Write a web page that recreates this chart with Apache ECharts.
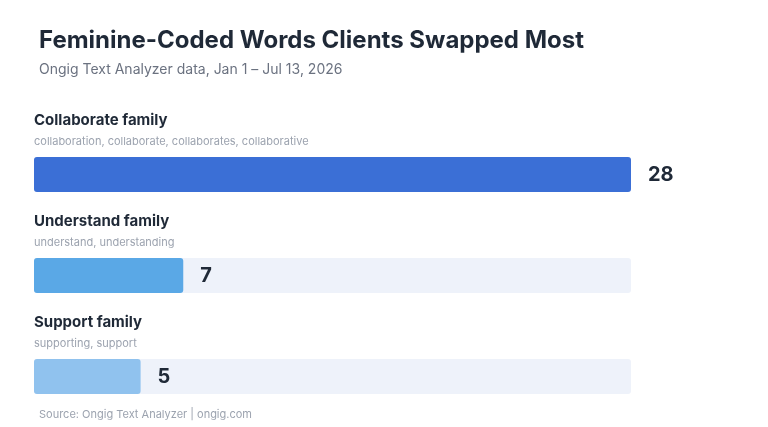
<!DOCTYPE html>
<html><head><meta charset="utf-8">
<script src="https://cdn.jsdelivr.net/npm/echarts@6/dist/echarts.min.js"></script>
<style>html,body{margin:0;padding:0;background:#fff}#c{width:768px;height:427px}</style>
</head><body><div id="c"></div>
<script>
const families = ["Collaborate family", "Understand family", "Support family"];
const variants = ["collaboration, collaborate, collaborates, collaborative", "understand, understanding", "supporting, support"];
const counts = [28, 7, 5];
const colors = ["#3b6fd6", "#5aa8e6", "#90c2ee"];
const FONT = "Inter, 'Noto Sans', sans-serif";
const chart = echarts.init(document.getElementById('c'));
chart.setOption({
  animation: false,
  backgroundColor: '#fff',
  textStyle: { fontFamily: FONT },
  title: [
    { text: 'Feminine-Coded Words Clients Swapped Most', left: 34, top: 24,
      textStyle: { fontSize: 24, fontWeight: 'bold', color: '#1f2937', fontFamily: FONT } },
    { text: 'Ongig Text Analyzer data, Jan 1 – Jul 13, 2026', left: 34, top: 58,
      textStyle: { fontSize: 14, fontWeight: 'normal', color: '#6b7280', fontFamily: FONT } },
    { text: 'Source: Ongig Text Analyzer | ongig.com', left: 34, top: 404,
      textStyle: { fontSize: 11, fontWeight: 'normal', color: '#9ca3af', fontFamily: FONT } }
  ],
  grid: { left: 34, right: 137, top: 124, height: 309 },
  xAxis: { type: 'value', min: 0, max: 28, show: false },
  yAxis: { type: 'category', data: families, inverse: true, show: false },
  series: [{
    type: 'bar', barWidth: 35,
    showBackground: true,
    backgroundStyle: { color: '#eef2fa', borderRadius: 3 },
    data: counts.map((v, i) => ({ value: v, itemStyle: { color: colors[i], borderRadius: 3 } })),
    label: { show: true, position: 'right', distance: 17, fontSize: 20, fontWeight: 'bold', color: '#1f2937', fontFamily: FONT }
  }]
});
const g = [];
families.forEach((f, i) => {
  const p = chart.convertToPixel({ gridIndex: 0 }, [0, i]);
  const top = p[1] - 17.5;
  g.push({ type: 'text', left: 34, top: top - 44, style: { text: f, fontSize: 15, fontWeight: 'bold', fill: '#1f2937', fontFamily: FONT } });
  g.push({ type: 'text', left: 34, top: top - 21, style: { text: variants[i], fontSize: 11, fill: '#9ca3af', fontFamily: FONT } });
});
chart.setOption({ graphic: g });
</script></body></html>
